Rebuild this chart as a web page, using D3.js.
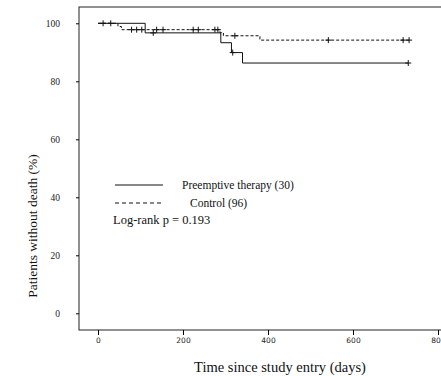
<!DOCTYPE html>
<html><head><meta charset="utf-8">
<script src="https://cdn.jsdelivr.net/npm/d3@7"></script>
<style>body{margin:0;background:#fff}svg{display:block}</style>
</head><body>
<script>
// ---- data ----
const preemptiveTimes = [0, 111, 289, 314, 340, 730];
const preemptiveSurv  = [100, 96.7, 93.3, 89.9, 86.3, 86.3];
const preemptiveCensor = [12, 30, 130, 317, 730];
const controlTimes = [0, 47, 55, 287, 295, 381, 732];
const controlSurv  = [100, 98.9, 97.8, 96.8, 95.7, 94.2, 94.2];
const controlCensor = [79, 91, 103, 138, 153, 224, 236, 275, 282, 322, 542, 718, 732];
const yTicks = [0, 20, 40, 60, 80, 100];
const xTicks = [0, 200, 400, 600, 800];
const legendLabels = ["Preemptive therapy (30)", "Control (96)"];
const pText = "Log-rank p = 0.193";
const xTitle = "Time since study entry (days)";
const yTitle = "Patients without death (%)";

(function () {
const W = 441, H = 376;
const svg = d3.select("body").append("svg").attr("width", W).attr("height", H);
const x = d3.scaleLinear().domain([0, 800]).range([98, 438]);
const y = d3.scaleLinear().domain([0, 100]).range([313.3, 23.3]);
const frameL = 79, frameT = 7, frameB = 330;

svg.append("rect").attr("x", frameL).attr("y", frameT).attr("width", W - frameL + 5).attr("height", frameB - frameT)
  .attr("fill", "none").attr("stroke", "#222").attr("stroke-width", 1);

const ya = svg.append("g").attr("transform", `translate(${frameL},0)`)
  .call(d3.axisLeft(y).tickValues(yTicks).tickSize(3).tickPadding(16).tickFormat(d3.format("d")));
ya.select(".domain").remove();
ya.selectAll("text").attr("font-family", "Liberation Serif, Times New Roman, serif").attr("font-size", 9.5).attr("fill", "#222");
const xa = svg.append("g").attr("transform", `translate(0,${frameB})`)
  .call(d3.axisBottom(x).tickValues(xTicks).tickSize(5).tickPadding(3).tickFormat(d3.format("d")));
xa.select(".domain").remove();
xa.selectAll("text").attr("font-family", "DejaVu Sans, Arial, sans-serif").attr("font-size", 7.5).attr("fill", "#222");

function survAt(times, surv, t) {
  let v = surv[0];
  for (let i = 0; i < times.length; i++) if (times[i] <= t) v = surv[i];
  return v;
}
const line = d3.line().x(d => x(d[0])).y(d => y(d[1])).curve(d3.curveStepAfter);

function drawSeries(times, surv, censor, dash) {
  svg.append("path").datum(times.map((t, i) => [t, surv[i]]))
    .attr("d", line).attr("fill", "none").attr("stroke", "#111").attr("stroke-width", 1)
    .attr("stroke-dasharray", dash);
  const g = svg.append("g");
  censor.forEach(t => {
    const cx = x(t), cy = y(survAt(times, surv, t));
    g.append("line").attr("x1", cx - 3).attr("x2", cx + 3).attr("y1", cy).attr("y2", cy).attr("stroke", "#111");
    g.append("line").attr("x1", cx).attr("x2", cx).attr("y1", cy - 3).attr("y2", cy + 3).attr("stroke", "#111");
  });
}
drawSeries(preemptiveTimes, preemptiveSurv, preemptiveCensor, null);
drawSeries(controlTimes, controlSurv, controlCensor, "3,2");

const serif = "Liberation Serif, Times New Roman, serif";
svg.append("line").attr("x1", 115).attr("x2", 163).attr("y1", 185).attr("y2", 185).attr("stroke", "#111");
svg.append("line").attr("x1", 115).attr("x2", 163).attr("y1", 203).attr("y2", 203).attr("stroke", "#111").attr("stroke-dasharray", "4,3");
svg.append("text").attr("x", 182).attr("y", 189).text(legendLabels[0]).attr("font-family", serif).attr("font-size", 11.5).attr("fill", "#111");
svg.append("text").attr("x", 190).attr("y", 207).text(legendLabels[1]).attr("font-family", serif).attr("font-size", 11.5).attr("fill", "#111");
svg.append("text").attr("x", 113).attr("y", 224).text(pText).attr("font-family", serif).attr("font-size", 12.5).attr("fill", "#111");

svg.append("text").attr("x", 280).attr("y", 372).attr("text-anchor", "middle").text(xTitle)
  .attr("font-family", serif).attr("font-size", 14.5).attr("fill", "#111");
svg.append("text").attr("transform", "translate(37,226) rotate(-90)").attr("text-anchor", "middle").text(yTitle)
  .attr("font-family", serif).attr("font-size", 13.5).attr("fill", "#111");
})();
</script>
</body></html>
